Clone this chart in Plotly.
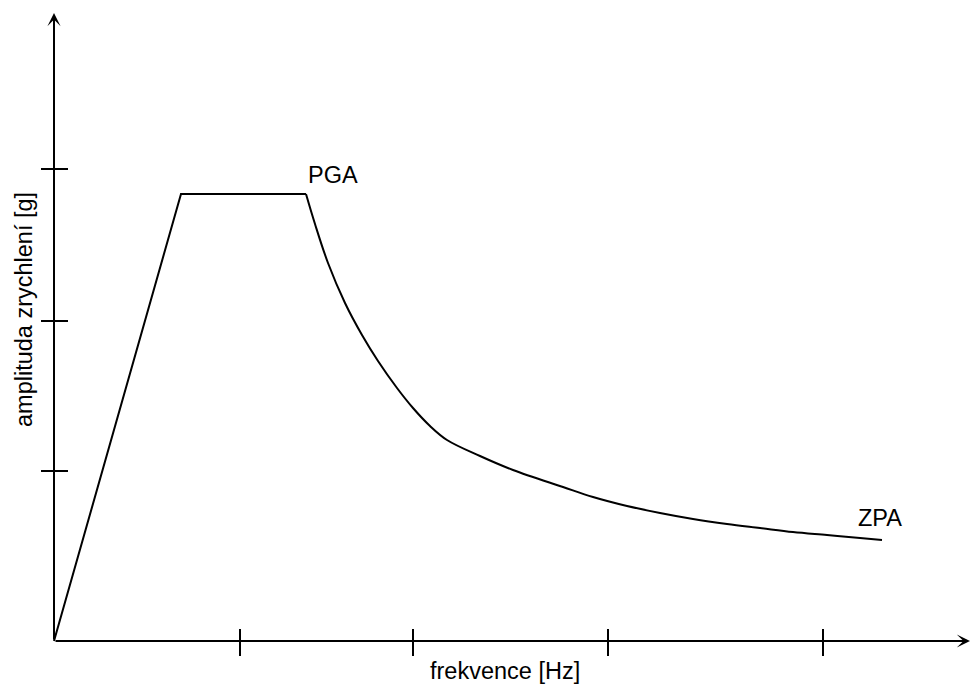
import plotly.graph_objects as go

# ---- data (schematic response spectrum) ----
ramp_x = [0.0, 1.27, 2.52]
ramp_y = [0.0, 4.47, 4.47]

decay_x = [2.52, 2.61, 2.74, 2.91, 3.08, 3.24, 3.43, 3.59, 3.76, 3.93, 4.26, 4.59,
           5.09, 5.39, 5.73, 6.06, 6.39, 6.73, 7.06, 7.39, 7.73, 8.06, 8.28]
decay_y = [4.47, 4.17, 3.78, 3.38, 3.06, 2.80, 2.53, 2.33, 2.15, 2.01, 1.85, 1.71,
           1.54, 1.44, 1.35, 1.28, 1.22, 1.17, 1.13, 1.09, 1.06, 1.03, 1.01]

x_ticks = [1.86, 3.59, 5.54, 7.69]
y_ticks = [1.70, 3.20, 4.72]

x_axis_end = 9.16
y_axis_end = 6.28

x_title = "frekvence [Hz]"
y_title = "amplituda zrychlení [g]"
peak_label = "PGA"
end_label = "ZPA"

FONT = "Liberation Sans, Arial, sans-serif"
FS = 23.5
LW = 2

fig = go.Figure()

# curve
fig.add_trace(go.Scatter(x=ramp_x, y=ramp_y, mode="lines",
                         line=dict(color="black", width=LW), hoverinfo="skip"))
fig.add_trace(go.Scatter(x=decay_x, y=decay_y, mode="lines",
                         line=dict(color="black", width=LW, shape="spline", smoothing=1.0),
                         hoverinfo="skip"))

# tick marks crossing the axes
tx, ty = [], []
for v in x_ticks:
    tx += [v, v, None]
    ty += [0.12, -0.15, None]
for v in y_ticks:
    tx += [-0.13, 0.14, None]
    ty += [v, v, None]
fig.add_trace(go.Scatter(x=tx, y=ty, mode="lines",
                         line=dict(color="black", width=LW), hoverinfo="skip"))

annotations = [
    # axes with arrowheads
    dict(x=x_axis_end, y=0, ax=0, ay=0, xref="x", yref="y", axref="x", ayref="y",
         showarrow=True, arrowhead=3, arrowsize=1.1, arrowwidth=LW, arrowcolor="black", text=""),
    dict(x=0, y=y_axis_end, ax=0, ay=0, xref="x", yref="y", axref="x", ayref="y",
         showarrow=True, arrowhead=3, arrowsize=1.1, arrowwidth=LW, arrowcolor="black", text=""),
    # labels
    dict(x=decay_x[0], y=decay_y[0], text=peak_label, showarrow=False,
         xanchor="left", yanchor="middle", xshift=0, yshift=19,
         font=dict(family=FONT, size=FS, color="black")),
    dict(x=decay_x[-1], y=decay_y[-1], text=end_label, showarrow=False,
         xanchor="center", yanchor="middle", xshift=-2, yshift=22,
         font=dict(family=FONT, size=FS, color="black")),
    # axis titles
    dict(x=4.51, y=-0.30, text=x_title, showarrow=False, xanchor="center", yanchor="middle",
         font=dict(family=FONT, size=FS, color="black")),
    dict(x=-0.30, y=3.31, text=y_title, showarrow=False, xanchor="center", yanchor="middle",
         textangle=-90, font=dict(family=FONT, size=FS, color="black")),
]

fig.update_layout(
    width=971, height=684,
    margin=dict(l=0, r=0, t=0, b=0),
    paper_bgcolor="white", plot_bgcolor="white",
    showlegend=False,
    xaxis=dict(range=[-0.54, 9.17], visible=False, fixedrange=True),
    yaxis=dict(range=[-0.43, 6.41], visible=False, fixedrange=True),
    annotations=annotations,
)

fig.write_html("out.html", config={"displayModeBar": False},
               post_script="document.body.style.margin='0';document.body.style.overflow='hidden';")
